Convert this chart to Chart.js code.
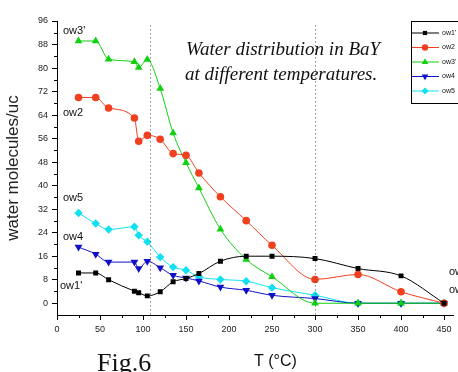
<!DOCTYPE html>
<html>
<head>
<meta charset="utf-8">
<script src="https://cdn.jsdelivr.net/npm/chart.js@4.4.0/dist/chart.umd.min.js"></script>
<style>
  html, body { margin:0; padding:0; background:#fff; }
  #wrap { width:458px; height:372px; }
</style>
</head>
<body>
<div id="wrap"><canvas id="chart" width="458" height="372"></canvas></div>
<script>
// temperatures (°C)
const temps = [25, 45, 60, 90, 95, 105, 120, 135, 150, 165, 190, 220, 250, 300, 350, 400, 450];
// water molecules per unit cell
const ow1 = [10.3, 10.3, 8, 4.1, 3.6, 2.5, 3.9, 7.3, 8.4, 10.1, 14.3, 16, 16, 15.2, 11.8, 9.3, 0];
const ow2 = [70, 70, 66.4, 63, 55.1, 57.1, 55.8, 50.9, 50.3, 44.3, 36.2, 28.1, 19.7, 8.1, 9.8, 3.9, 0];
const ow3 = [89.2, 89.2, 83, 82.1, 80.2, 82.9, 73, 57.9, 47.8, 39.2, 25.2, 14.9, 9, 0, 0, 0, 0];
const ow4 = [19.1, 16.7, 14, 14, 11.8, 14.3, 12.1, 9.5, 8.6, 7.6, 5.5, 4.4, 2.7, 1.6, 0, 0, 0];
const ow5 = [30.7, 27.1, 25.1, 26, 23.1, 20.9, 15.7, 12.3, 11.2, 9, 8.1, 7.5, 5.3, 2.7, 0, 0, 0];
const seriesNames = ["ow1'", "ow2", "ow3'", "ow4", "ow5"];
const yTicks = [0, 8, 16, 24, 32, 40, 48, 56, 64, 72, 80, 88, 96];
const xTicks = [0, 50, 100, 150, 200, 250, 300, 350, 400, 450];
const markLines = [108, 300];

function pts(arr) {
    return temps.map((t, i) => ({x: t, y: arr[i]}));
}

function series(label, arr, color, style, r, rot) {
    return {
        label: label,
        data: pts(arr),
        borderColor: color,
        backgroundColor: color,
        borderWidth: 1,
        pointStyle: style,
        pointRadius: r,
        pointRotation: rot || 0,
        pointBorderWidth: 0,
        cubicInterpolationMode: "monotone"
    };
}

const extras = {
    id: "extras",
    afterDraw(chart) {
        const ctx = chart.ctx;
        const xs = chart.scales.x, ys = chart.scales.y;
        ctx.save();
        // dotted temperature markers
        ctx.strokeStyle = "#444";
        ctx.lineWidth = 1;
        ctx.setLineDash([1, 3]);
        markLines.forEach(v => {
            const px = Math.round(xs.getPixelForValue(v)) + 0.5;
            ctx.beginPath();
            ctx.moveTo(px, ys.getPixelForValue(94.5));
            ctx.lineTo(px, ys.bottom);
            ctx.stroke();
        });
        ctx.setLineDash([]);
        // minor ticks
        ctx.strokeStyle = "#000";
        for (let v = 4; v < 96; v += 8) {
            const py = Math.round(ys.getPixelForValue(v)) + 0.5;
            ctx.beginPath();
            ctx.moveTo(xs.left - 3, py);
            ctx.lineTo(xs.left, py);
            ctx.stroke();
        }
        for (let v = 25; v < 460; v += 50) {
            const px = Math.round(xs.getPixelForValue(v)) + 0.5;
            ctx.beginPath();
            ctx.moveTo(px, ys.bottom);
            ctx.lineTo(px, ys.bottom + 3);
            ctx.stroke();
        }
        // series labels
        ctx.fillStyle = "#111";
        ctx.font = "11px 'Liberation Sans', Arial, sans-serif";
        ctx.textBaseline = "middle";
        ctx.fillText("ow3'", 63, 31);
        ctx.fillText("ow2", 63, 113);
        ctx.fillText("ow5", 63, 198);
        ctx.fillText("ow4", 63, 237);
        ctx.fillText("ow1'", 60, 286);
        ctx.fillText("ow1'", 449, 272);
        ctx.fillText("ow2", 449, 290);
        // title
        ctx.textBaseline = "alphabetic";
        ctx.font = "italic 19px 'Liberation Serif', 'Times New Roman', serif";
        ctx.fillText("Water distribution in BaY", 186, 55);
        ctx.fillText("at different temperatures.", 185, 80);
        // axis title and figure label
        ctx.font = "16px 'Liberation Sans', Arial, sans-serif";
        ctx.fillText("T (\u00b0C)", 254, 366);
        ctx.font = "26px 'Liberation Serif', 'Times New Roman', serif";
        ctx.fillText("Fig.6", 97, 371);
        // legend box
        ctx.textBaseline = "middle";
        const lx = 411, ly = 21, rowH = 14.5;
        ctx.lineWidth = 1;
        ctx.strokeRect(lx + 0.5, ly + 0.5, 70, 82);
        ctx.font = "7px 'Liberation Sans', Arial, sans-serif";
        chart.data.datasets.forEach((ds, i) => {
            const cy = ly + 12 + i * rowH;
            ctx.strokeStyle = ds.borderColor;
            ctx.beginPath();
            ctx.moveTo(lx + 1, cy);
            ctx.lineTo(lx + 28, cy);
            ctx.stroke();
            ctx.fillStyle = ds.backgroundColor;
            ctx.beginPath();
            Chart.helpers.drawPoint(ctx, {
                pointStyle: ds.pointStyle,
                rotation: ds.pointRotation,
                radius: ds.pointRadius * 0.85,
                borderWidth: 0
            }, lx + 14, cy);
            ctx.fillStyle = "#111";
            ctx.fillText(ds.label, lx + 31, cy);
        });
        ctx.restore();
    }
};

new Chart(document.getElementById("chart"), {
    type: "line",
    data: {
        datasets: [
            series(seriesNames[0], ow1, "#000000", "rect", 3.5),
            series(seriesNames[1], ow2, "#f04020", "circle", 3.8),
            series(seriesNames[2], ow3, "#10d010", "triangle", 4.5),
            series(seriesNames[3], ow4, "#1010c8", "triangle", 4.5, 180),
            series(seriesNames[4], ow5, "#10e0f0", "rectRot", 4.2)
        ]
    },
    options: {
        responsive: false,
        animation: false,
        layout: { padding: { top: 21, left: 0, right: 0, bottom: 0 } },
        plugins: {
            legend: { display: false },
            tooltip: { enabled: false }
        },
        scales: {
            x: {
                type: "linear",
                min: 0,
                max: 461,
                afterBuildTicks: s => { s.ticks = xTicks.map(v => ({value: v})); },
                afterFit: s => { s.height = 57; },
                grid: { drawOnChartArea: false, drawTicks: true, tickLength: 5, color: "#000" },
                border: { display: true, color: "#000", width: 1 },
                ticks: {
                    color: "#222",
                    padding: 4,
                    maxRotation: 0,
                    font: { size: 9, family: "'Liberation Sans', Arial, sans-serif" }
                }
            },
            y: {
                min: -4,
                max: 96,
                afterBuildTicks: s => { s.ticks = yTicks.map(v => ({value: v})); },
                afterFit: s => { s.width = 57; },
                grid: { drawOnChartArea: false, drawTicks: true, tickLength: 5, color: "#000" },
                border: { display: true, color: "#000", width: 1 },
                title: {
                    display: true,
                    text: "water molecules/uc",
                    color: "#222",
                    padding: { top: 3, bottom: 0 },
                    font: { size: 17, family: "'Liberation Sans', Arial, sans-serif" }
                },
                ticks: {
                    color: "#222",
                    padding: 4,
                    font: { size: 9, family: "'Liberation Sans', Arial, sans-serif" }
                }
            }
        }
    },
    plugins: [extras]
});
</script>
</body>
</html>
